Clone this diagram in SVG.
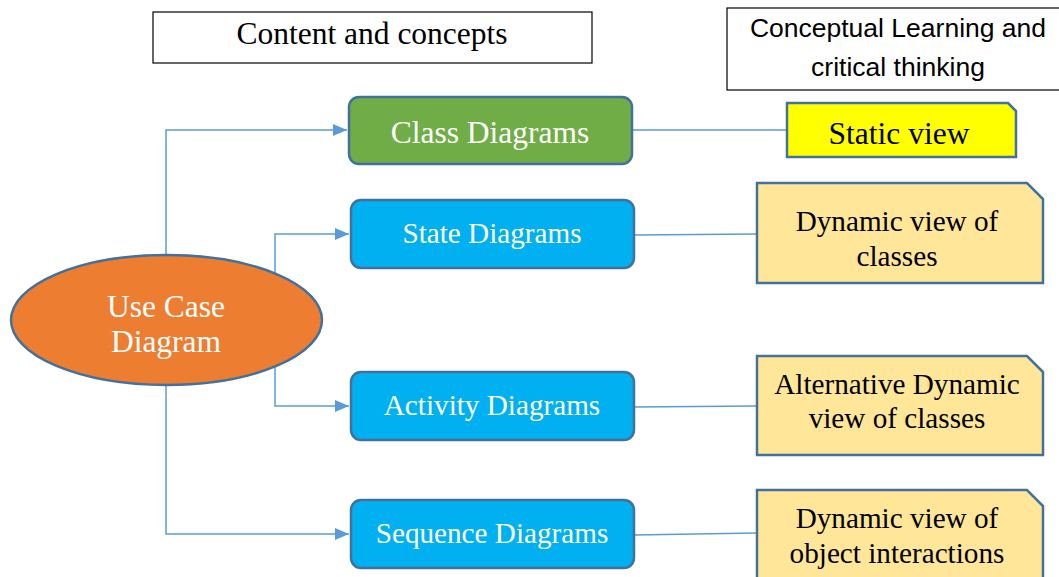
<svg xmlns="http://www.w3.org/2000/svg" width="1059" height="577" viewBox="0 0 1059 577">
<defs>
<style>
.hdr{fill:#fff;stroke:#000;stroke-width:1.2}
.rbox{stroke:#41719C;stroke-width:2.5}
.note{stroke:#41719C;stroke-width:2.5}
.tw{font-family:"Liberation Serif","Times New Roman",serif;font-size:31.5px;fill:#fff;text-anchor:middle}
.tb{font-family:"Liberation Serif","Times New Roman",serif;font-size:31.5px;fill:#000;text-anchor:middle}
.sm{font-size:29.2px}
.ts{font-family:"Liberation Sans",Arial,sans-serif;font-size:26.5px;fill:#000;text-anchor:middle}
.con{fill:none;stroke:#5B9BD5;stroke-width:1.5}
</style>
<marker id="arr" markerWidth="14" markerHeight="12" refX="14" refY="6" orient="auto" markerUnits="userSpaceOnUse" viewBox="0 0 14 12">
<path d="M0,0 L14,6 L0,12 Z" fill="#5B9BD5"/>
</marker>
</defs>
<rect width="1059" height="577" fill="#fff"/>
<g id="connectors">
<polyline class="con" points="166,255 166,130 347,130" style="marker-end:url(#arr)"/>
<polyline class="con" points="275,273 275,234 349,234" style="marker-end:url(#arr)"/>
<polyline class="con" points="275,367 275,406 349,406" style="marker-end:url(#arr)"/>
<polyline class="con" points="166,385 166,534 349,534" style="marker-end:url(#arr)"/>
<line class="con" x1="632" y1="130" x2="787" y2="130"/>
<line class="con" x1="634" y1="235" x2="757" y2="234"/>
<line class="con" x1="634" y1="407" x2="757" y2="406"/>
<line class="con" x1="634" y1="535" x2="757" y2="533"/>
</g>
<g id="header-content">
<rect class="hdr" x="153" y="12" width="439" height="51"/>
<text class="tb" x="372" y="44">Content and concepts</text>
</g>
<g id="header-learning">
<rect class="hdr" x="727" y="8" width="340" height="82"/>
<text class="ts" x="898" y="37">Conceptual Learning and</text>
<text class="ts" x="898" y="76">critical thinking</text>
</g>
<g id="use-case">
<ellipse cx="166.5" cy="320" rx="155.5" ry="65" fill="#ED7D31" stroke="#41719C" stroke-width="2.5"/>
<text class="tw" x="166" y="317">Use Case</text>
<text class="tw" x="166" y="352">Diagram</text>
</g>
<g id="class-diagrams">
<rect class="rbox" x="349" y="97" width="283" height="67" rx="10" fill="#70AD47"/>
<text class="tw" x="490" y="143">Class Diagrams</text>
</g>
<g id="state-diagrams">
<rect class="rbox" x="351" y="200" width="283" height="68" rx="10" fill="#00B0F0"/>
<text class="tw sm" x="492" y="243">State Diagrams</text>
</g>
<g id="activity-diagrams">
<rect class="rbox" x="351" y="372" width="283" height="68" rx="10" fill="#00B0F0"/>
<text class="tw sm" x="492" y="415">Activity Diagrams</text>
</g>
<g id="sequence-diagrams">
<rect class="rbox" x="351" y="500" width="283" height="68" rx="10" fill="#00B0F0"/>
<text class="tw sm" x="492" y="543">Sequence Diagrams</text>
</g>
<g id="static-view">
<path class="note" d="M787,103 L1008,103 L1016,111 L1016,157 L787,157 Z" fill="#FFFF00"/>
<text class="tb" x="899" y="144">Static view</text>
</g>
<g id="dynamic-classes">
<path class="note" d="M757,183 L1027,183 L1043,199 L1043,283 L757,283 Z" fill="#FFE699"/>
<text class="tb sm" x="897" y="231">Dynamic view of</text>
<text class="tb sm" x="897" y="266">classes</text>
</g>
<g id="alt-dynamic">
<path class="note" d="M757,356 L1027,356 L1043,372 L1043,455 L757,455 Z" fill="#FFE699"/>
<text class="tb sm" x="897" y="394">Alternative Dynamic</text>
<text class="tb sm" x="897" y="428">view of classes</text>
</g>
<g id="dynamic-objects">
<path class="note" d="M757,490 L1027,490 L1043,506 L1043,580 L757,580 Z" fill="#FFE699"/>
<text class="tb sm" x="897" y="528">Dynamic view of</text>
<text class="tb sm" x="897" y="563">object interactions</text>
</g>
</svg>
